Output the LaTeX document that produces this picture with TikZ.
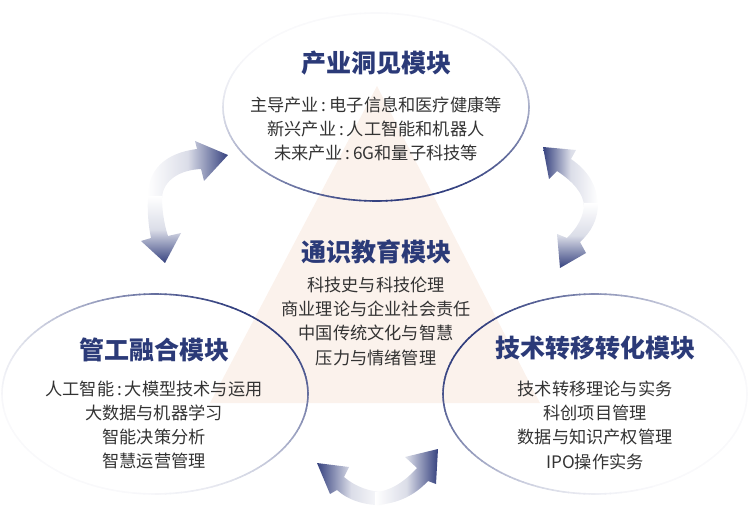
\documentclass[tikz,border=0pt]{standalone}
\usepackage{fontspec}
\setmainfont{Noto Sans CJK SC}
\definecolor{navy}{HTML}{2E3B7C}
\definecolor{titlec}{HTML}{2B3A78}
\definecolor{bodyc}{HTML}{333333}
\definecolor{tri}{HTML}{FBF2EC}
\definecolor{arr}{HTML}{36427F}
\newcommand\gradell[5]{%
  \foreach \a in {0,2,...,358}{%
    \pgfmathsetmacro\w{(1+cos(\a+1-#5))/2}%
    \pgfmathtruncatemacro\p{3+97*\w^2}%
    \draw[ellline, draw=navy!\p!white] ({#1+#3*cos(\a)},{#2+#4*sin(\a)}) -- ({#1+#3*cos(\a+2.2)},{#2+#4*sin(\a+2.2)});
  }}
\begin{document}
\begin{tikzpicture}[x=1pt,y=-1pt,
  ellline/.style={line width=1.6pt, line cap=round},
  ttl/.style={text=titlec, font=\fontsize{25}{30}\selectfont\bfseries, inner sep=0pt},
  body/.style={text=bodyc, font=\fontsize{17.2}{24.3}\selectfont, align=center, inner sep=0pt},
  arrowpart/.style={draw=none}
]
\useasboundingbox (0,0) rectangle (750,513);
% background triangle
\fill[tri] (377,86) -- (540,403) -- (210,403) -- cycle;
% ellipses
\gradell{376}{107}{153}{94}{75}
\gradell{155}{394}{153}{100}{315}
\gradell{595}{394}{152}{100}{210}
\coordinate (ctop) at (376,107);
\coordinate (cleft) at (155,394);
\coordinate (cright) at (595,394);
% titles
\node[ttl] (t1) at (376,63) {产业洞见模块};
\node[ttl] (t2) at (376,252) {通识教育模块};
\node[ttl] (t3) at (154,350) {管工融合模块};
\node[ttl] (t4) at (595,348) {技术转移转化模块};
% bodies
\node[body] (b1) at (376,129) {主导产业\,:\,电子信息和医疗健康等\\新兴产业\,:\,人工智能和机器人\\未来产业\,:\,6G和量子科技等};
\node[body] (b2) at (376,321) {科技史与科技伦理\\商业理论与企业社会责任\\中国传统文化与智慧\\压力与情绪管理};
\node[body] (b3) at (154,425) {人工智能\,:\,大模型技术与运用\\大数据与机器学习\\智能决策分析\\智慧运营管理};
\node[body] (b4) at (595,425) {技术转移理论与实务\\科创项目管理\\数据与知识产权管理\\IPO操作实务};
% left arrow
\shade[arrowpart, left color=white, right color=arr, middle color=arr!18!white]
  (148,198) .. controls (147,170) and (165,153) .. (197,149) -- (195,141) -- (228,155) -- (204,181) -- (201,169) .. controls (180,170) and (163,180) .. (162,198) -- cycle;
\shade[arrowpart, top color=white, bottom color=arr, middle color=arr!18!white]
  (148,196) .. controls (147,215) and (149,228) .. (151,238) -- (141,241) -- (165,263) -- (181,233) -- (168,236) .. controls (164,224) and (162,210) .. (162,196) -- cycle;
% right arrow
\shade[arrowpart, left color=arr, right color=white, middle color=arr!18!white]
  (598,207) .. controls (598,185) and (587,170) .. (571,159) -- (576,150) -- (543,147) -- (549,179) -- (557,171) .. controls (572,181) and (584,193) .. (584,207) -- cycle;
\shade[arrowpart, top color=white, bottom color=arr, middle color=arr!18!white]
  (598,203) .. controls (598,220) and (591,232) .. (580,242) -- (586,253) -- (560,268) -- (557,234) -- (567,238) .. controls (577,228) and (584,217) .. (584,203) -- cycle;
% bottom arrow
\shade[arrowpart, left color=arr, right color=white, middle color=arr!18!white]
  (385,505) .. controls (365,506) and (348,500) .. (337,490) -- (330,494) -- (317,463) -- (349,467) -- (344,477) .. controls (356,487) and (370,492) .. (385,492) -- cycle;
\shade[arrowpart, left color=white, right color=arr, middle color=arr!18!white]
  (375,505) .. controls (398,504) and (415,495) .. (428,481) -- (436,484) -- (438,449) -- (405,457) -- (417,468) .. controls (406,480) and (392,491) .. (375,492) -- cycle;
\end{tikzpicture}
\end{document}
